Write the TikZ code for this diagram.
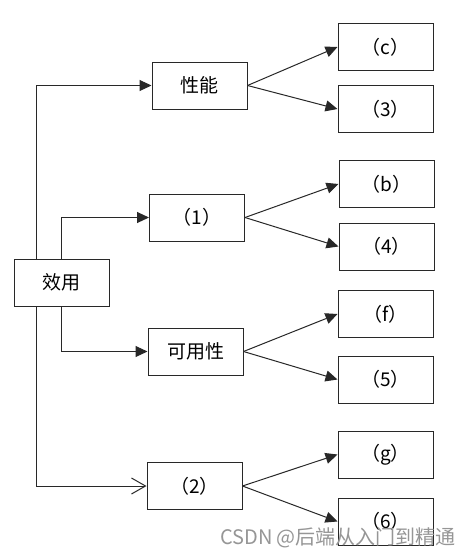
\documentclass[tikz,border=0pt]{standalone}
\usepackage{fontspec}
\setmainfont{Noto Sans CJK SC}
\definecolor{linegray}{RGB}{40,40,40}
\definecolor{markgray}{RGB}{150,150,150}
\usepackage{tikz}
\usetikzlibrary{arrows.meta,positioning,calc}

\tikzset{
  box/.style={draw=linegray, line width=1pt, minimum width=95pt, minimum height=47pt,
              inner sep=0pt, font=\fontsize{19}{22}\selectfont},
  link/.style={draw=linegray, line width=1pt, -{Triangle[length=12pt,width=11pt]}},
  openlink/.style={draw=linegray, line width=1pt, -{Straight Barb[length=14pt,width=16pt]}}
}

\begin{document}
\begin{tikzpicture}[x=1pt, y=-1pt]
    \useasboundingbox[fill=white] (0,0) rectangle (470,557);

    % left root
    \node[box] (eff) at (61.5,282.5) {效用};

    % middle column
    \node[box] (perf)  at (199.5,85.5) {性能};
    \node[box] (one)   at (197,217.5)  {（1）};
    \node[box] (avail) at (195.5,351.5) {可用性};
    \node[box] (two)   at (194.5,486)  {（2）};

    % right column
    \node[box] (c)     at (385.5,47)    {（c）};
    \node[box] (three) at (385.5,109)   {（3）};
    \node[box] (b)     at (386.5,184)   {（b）};
    \node[box] (four)  at (386.5,246.5) {（4）};
    \node[box] (f)     at (385.5,314)   {（f）};
    \node[box] (five)  at (385.5,379.5) {（5）};
    \node[box] (g)     at (385.5,454.5) {（g）};
    \node[box] (six)   at (385.5,521.5) {（6）};

    % root to middle
    \draw[link] ([xshift=-25.5pt]eff.north) |- (perf.west);
    \draw[link] (eff.north) |- (one.west);
    \draw[link] (eff.south) |- (avail.west);
    \draw[openlink] ([xshift=-25.5pt]eff.south) |- (two.west);

    % middle to right
    \draw[link] (perf.east) -- (c.west);
    \draw[link] (perf.east) -- (three.west);
    \draw[link] (one.east) -- (b.west);
    \draw[link] (one.east) -- (four.west);
    \draw[link] (avail.east) -- (f.west);
    \draw[link] (avail.east) -- (five.west);
    \draw[link] (two.east) -- (g.west);
    \draw[link] (two.east) -- (six.west);

    \node[text=markgray, font=\fontsize{20}{22}\selectfont] (mark) at (338,538) {CSDN @后端从入门到精通};
  \end{tikzpicture}
\end{document}
